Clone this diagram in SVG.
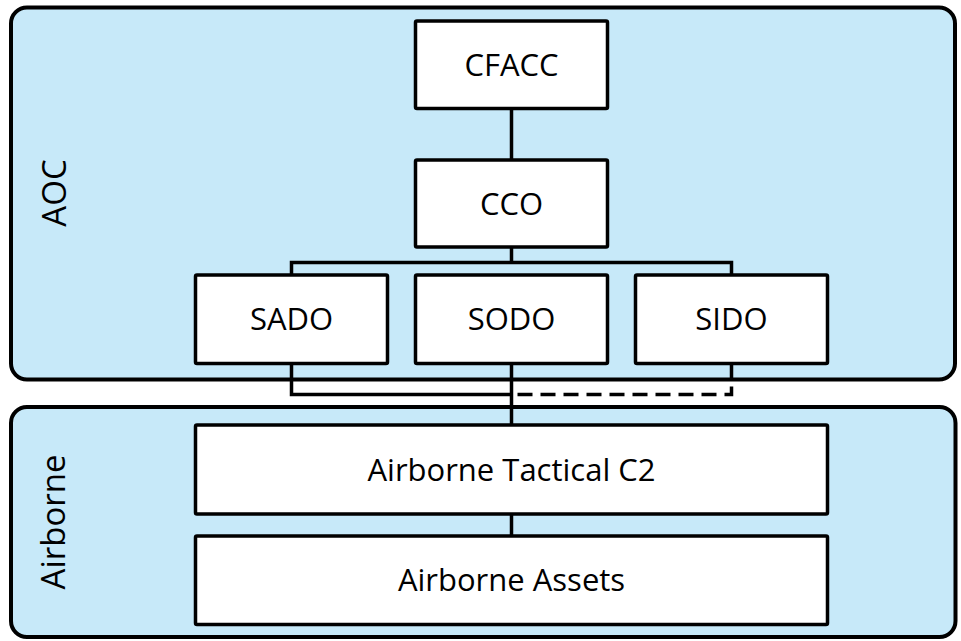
<svg xmlns="http://www.w3.org/2000/svg" width="961" height="641" viewBox="0 0 961 641">
  <style>
    .container { fill: #c7e9f9; stroke: #000; stroke-width: 4; }
    .box { fill: #fff; stroke: #000; stroke-width: 3.5; }
    .lbl { font-family: "Open Sans", "Noto Sans", sans-serif; font-size: 31px; fill: #000; text-anchor: middle; }
    .side { font-family: "Open Sans", "Noto Sans", sans-serif; font-size: 33px; fill: #000; text-anchor: middle; }
    .conn { fill: none; stroke: #000; stroke-width: 3.5; stroke-linejoin: miter; }
    .dash { stroke-dasharray: 15 8; }
  </style>
  <rect width="961" height="641" fill="#fff"/>
  <g id="aoc">
    <rect class="container" x="11" y="7.5" width="944" height="372" rx="16"/>
    <text class="side" transform="translate(66,193) rotate(-90)">AOC</text>
  </g>
  <g id="airborne">
    <rect class="container" x="11" y="407" width="944.5" height="230" rx="16"/>
    <text class="side" transform="translate(65,522) rotate(-90)">Airborne</text>
  </g>
  <g id="connectors">
    <path class="conn" d="M511.5 108.5 V160"/>
    <path class="conn" d="M511.5 247 V262"/>
    <path class="conn" d="M291.5 275 V262.5 H731.5 V275"/>
    <path class="conn" d="M291.5 363.5 V394.5 H511.5"/>
    <path class="conn" d="M511.5 363.5 V425"/>
    <path class="conn dash" d="M731.5 363.5 V394.5 H513"/>
    <path class="conn" d="M511.5 514 V536"/>
  </g>
  <g id="cfacc">
    <rect class="box" x="415.5" y="21" width="192" height="87.5" rx="1.5"/>
    <text class="lbl" x="511.5" y="75.75">CFACC</text>
  </g>
  <g id="cco">
    <rect class="box" x="415.5" y="160" width="192" height="87" rx="1.5"/>
    <text class="lbl" x="511.5" y="214.5">CCO</text>
  </g>
  <g id="sado">
    <rect class="box" x="195.5" y="275" width="192" height="88.5" rx="1.5"/>
    <text class="lbl" x="291.5" y="330.25">SADO</text>
  </g>
  <g id="sodo">
    <rect class="box" x="415.5" y="275" width="192" height="88.5" rx="1.5"/>
    <text class="lbl" x="511.5" y="330.25">SODO</text>
  </g>
  <g id="sido">
    <rect class="box" x="635.5" y="275" width="192" height="88.5" rx="1.5"/>
    <text class="lbl" x="731.5" y="330.25">SIDO</text>
  </g>
  <g id="tactical">
    <rect class="box" x="195.5" y="425" width="632" height="89" rx="1.5"/>
    <text class="lbl" x="511.5" y="480.5">Airborne Tactical C2</text>
  </g>
  <g id="assets">
    <rect class="box" x="195.5" y="536" width="632" height="88.5" rx="1.5"/>
    <text class="lbl" x="511.5" y="591.25">Airborne Assets</text>
  </g>
</svg>
